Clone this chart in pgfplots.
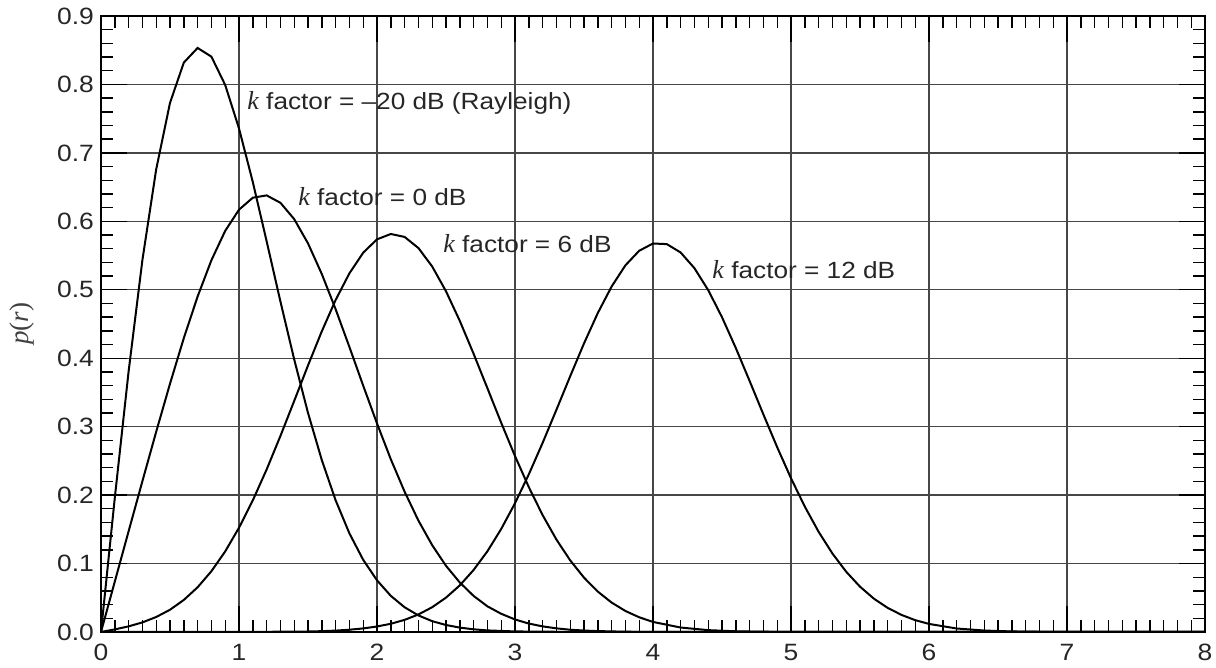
\documentclass[border=0pt]{standalone}
\usepackage{fontspec}
\setmainfont[FakeStretch=1.12]{Liberation Sans}
\newfontfamily\serif{Liberation Serif}
\usepackage{pgfplots}
\pgfplotsset{compat=1.18}
\newcommand{\kf}{{\serif\itshape\fontsize{13}{14}\selectfont k}}
\begin{document}
\begin{tikzpicture}
\begin{axis}[name=ax,
  scale only axis, width=552pt, height=308pt,
  xmin=0, xmax=8, ymin=0, ymax=0.9,
  xtick={0,1,...,8}, ytick={0,0.1,...,0.9},
  minor x tick num=9, minor y tick num=4,
  tick align=inside,
  major tick length=13pt, minor tick length=6pt,
  every tick/.style={black, line width=0.7pt},
  grid=major,
  major grid style={black!72, line width=0.65pt},
  axis line style={black, line width=1pt},
  /pgf/number format/assume math mode=true,
  yticklabel style={/pgf/number format/.cd, fixed, fixed zerofill, precision=1},
  ticklabel style={font=\fontsize{11.8}{13}\selectfont, text=black!85},
  xticklabel style={yshift=-2.5pt},
  ylabel={{\serif\itshape p}{\serif(}{\serif\itshape r}{\serif)}},
  ylabel style={at={(axis description cs:-0.0716,0.5)}, anchor=center, font=\fontsize{13.5}{15}\selectfont, text=black!75},
  clip=false,
]
\addplot[black, line width=1pt] coordinates {(0,0)(0.1,0.1960)(0.2,0.3806)(0.3,0.5434)(0.4,0.6760)(0.5,0.7730)(0.6,0.8319)(0.7,0.8533)(0.8,0.8406)(0.9,0.7992)(1.0,0.7357)(1.1,0.6574)(1.2,0.5711)(1.3,0.4830)(1.4,0.3982)(1.5,0.3201)(1.6,0.2512)(1.7,0.1925)(1.8,0.1441)(1.9,0.1054)(2.0,0.0755)(2.1,0.0528)(2.2,0.0361)(2.3,0.0242)(2.4,0.0158)(2.5,0.0102)(2.6,0.0064)(2.7,0.0039)(2.8,0.0023)(3.0,0.0008)(3.5,0.0000)(8,0)};
\addplot[black, line width=1pt] coordinates {(0,0)(0.1,0.0736)(0.2,0.1471)(0.3,0.2203)(0.4,0.2926)(0.5,0.3627)(0.6,0.4293)(0.7,0.4901)(0.8,0.5431)(0.9,0.5861)(1.0,0.6170)(1.1,0.6345)(1.2,0.6379)(1.3,0.6271)(1.4,0.6032)(1.5,0.5678)(1.6,0.5230)(1.7,0.4717)(1.8,0.4164)(1.9,0.3599)(2.0,0.3047)(2.1,0.2524)(2.2,0.2050)(2.3,0.1628)(2.4,0.1268)(2.5,0.0967)(2.6,0.0723)(2.7,0.0527)(2.8,0.0375)(2.9,0.0266)(3.0,0.0183)(3.1,0.0123)(3.2,0.0082)(3.3,0.0053)(3.4,0.0033)(3.5,0.0021)(3.6,0.0013)(3.8,0.0004)(4.0,0.0001)(8,0)};
\addplot[black, line width=1pt] coordinates {(0,0)(0.1,0.0038)(0.2,0.0082)(0.3,0.0140)(0.4,0.0219)(0.5,0.0325)(0.6,0.0468)(0.7,0.0653)(0.8,0.0888)(0.9,0.1177)(1.0,0.1523)(1.1,0.1923)(1.2,0.2373)(1.3,0.2863)(1.4,0.3376)(1.5,0.3894)(1.6,0.4393)(1.7,0.4850)(1.8,0.5240)(1.9,0.5542)(2.0,0.5737)(2.1,0.5815)(2.2,0.5772)(2.3,0.5610)(2.4,0.5340)(2.5,0.4978)(2.6,0.4545)(2.7,0.4065)(2.8,0.3562)(2.9,0.3057)(3.0,0.2570)(3.1,0.2117)(3.2,0.1708)(3.3,0.1351)(3.4,0.1046)(3.5,0.0794)(3.6,0.0590)(3.7,0.0430)(3.8,0.0307)(3.9,0.0215)(4.0,0.0147)(4.2,0.0065)(4.4,0.0027)(4.6,0.0010)(4.8,0.0004)(5.0,0.0001)(8,0)};
\addplot[black, line width=1pt] coordinates {(0,0)(1.0,0.0000)(1.5,0.0007)(1.6,0.0012)(1.7,0.0020)(1.8,0.0033)(1.9,0.0052)(2.0,0.0080)(2.1,0.0120)(2.2,0.0177)(2.3,0.0256)(2.4,0.0362)(2.5,0.0502)(2.6,0.0681)(2.7,0.0906)(2.8,0.1179)(2.9,0.1505)(3.0,0.1881)(3.1,0.2303)(3.2,0.2762)(3.3,0.3246)(3.4,0.3737)(3.5,0.4216)(3.6,0.4660)(3.7,0.5047)(3.8,0.5357)(3.9,0.5570)(4.0,0.5676)(4.1,0.5667)(4.2,0.5545)(4.3,0.5316)(4.4,0.4995)(4.5,0.4599)(4.6,0.4149)(4.7,0.3668)(4.8,0.3178)(4.9,0.2699)(5.0,0.2246)(5.1,0.1832)(5.2,0.1464)(5.3,0.1147)(5.4,0.0880)(5.5,0.0662)(5.6,0.0488)(5.7,0.0353)(5.8,0.0250)(5.9,0.0173)(6.0,0.0118)(6.2,0.0051)(6.4,0.0021)(6.6,0.0008)(6.8,0.0003)(7.0,0.0001)(8,0)};
\begin{scope}[every node/.style={anchor=west, inner sep=0pt, font=\fontsize{11.7}{13}\selectfont, text=black!85}]
\node at (axis cs:1.058,0.773) {\kf{} factor = –20 dB (Rayleigh)};
\node at (axis cs:1.427,0.636) {\kf{} factor = 0 dB};
\node at (axis cs:2.478,0.567) {\kf{} factor = 6 dB};
\node at (axis cs:4.428,0.529) {\kf{} factor = 12 dB};
\end{scope}
\end{axis}
\pgfresetboundingbox
\path ([shift={(-50.5pt,-18pt)}]ax.south west) rectangle ([shift={(5.5pt,8pt)}]ax.north east);
\end{tikzpicture}
\end{document}
